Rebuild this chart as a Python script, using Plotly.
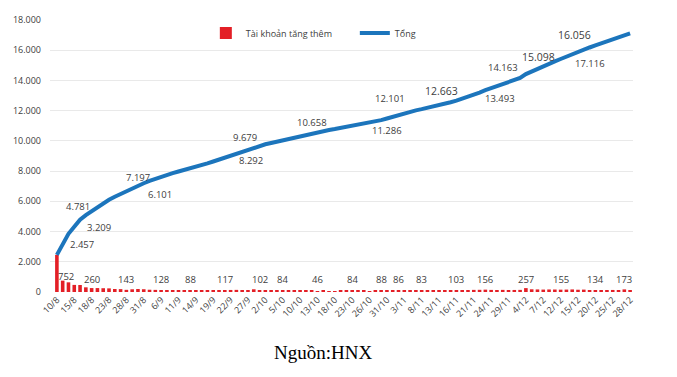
import plotly.graph_objects as go

# ---- data ----
tick_labels = ["10/8", "15/8", "18/8", "23/8", "28/8", "31/8", "6/9", "11/9", "14/9",
               "19/9", "22/9", "27/9", "2/10", "5/10", "10/10", "13/10", "18/10",
               "23/10", "26/10", "31/10", "3/11", "8/11", "13/11", "16/11", "21/11",
               "24/11", "29/11", "4/12", "7/12", "12/12", "15/12", "20/12", "25/12",
               "28/12"]

new_accounts = [
    2457, 752, 640, 470, 462, 310, 260, 260, 250, 240,
    200, 190, 143, 180, 200, 183, 150, 140, 128, 130,
    120, 110, 100, 88, 129, 110, 115, 120, 130, 117,
    135, 140, 120, 118, 180, 102, 95, 90, 88, 84,
    90, 92, 100, 95, 90, 46, 109, 60, 65, 70,
    72, 84, 70, 68, 66, 73, 88, 110, 115, 86,
    120, 110, 103, 83, 80, 85, 90, 100, 104, 103,
    120, 130, 140, 145, 156, 139, 130, 140, 125, 135,
    140, 257, 180, 170, 160, 168, 165, 155, 160, 170,
    150, 158, 125, 134, 130, 128, 135, 120, 173, 115,
]

total_accounts = [
    2457, 3209, 3849, 4319, 4781, 5091, 5351, 5611, 5861, 6101,
    6301, 6491, 6634, 6814, 7014, 7197, 7347, 7487, 7615, 7745,
    7865, 7975, 8075, 8163, 8292, 8402, 8517, 8637, 8767, 8884,
    9019, 9159, 9279, 9397, 9577, 9679, 9774, 9864, 9952, 10036,
    10126, 10218, 10318, 10413, 10503, 10549, 10658, 10718, 10783, 10853,
    10925, 11009, 11079, 11147, 11213, 11286, 11374, 11484, 11599, 11685,
    11805, 11915, 12018, 12101, 12181, 12266, 12356, 12456, 12560, 12663,
    12783, 12913, 13053, 13198, 13354, 13493, 13623, 13763, 13888, 14023,
    14163, 14420, 14600, 14770, 14930, 15098, 15263, 15418, 15578, 15748,
    15898, 16056, 16181, 16315, 16445, 16573, 16708, 16828, 17001, 17116,
]

# sessions whose values are printed in the chart
bar_label_idx = [1, 6, 12, 18, 23, 29, 35, 39, 45, 51, 56, 59, 63, 69, 74, 81, 87, 93, 98]
line_label_idx = [0, 1, 4, 9, 15, 24, 35, 46, 55, 63, 69, 75, 80, 85, 91, 99]

# ---- styling ----
RED = "#e31f26"
BLUE = "#1c75bc"
FONT = "Open Sans"
TXT = "#404040"

sessions = list(range(len(new_accounts)))
tick_step = 3


def fmt(v):
    return f"{v:,}".replace(",", ".")


fig = go.Figure()
fig.add_trace(go.Bar(x=sessions, y=new_accounts, name="Tài khoản tăng thêm",
                     marker=dict(color=RED, line=dict(width=0))))
fig.add_trace(go.Scatter(x=sessions, y=total_accounts, name="Tổng", mode="lines",
                         line=dict(color=BLUE, width=4)))

# line value labels (pixel offsets from their points)
line_shifts = [(25, 10), (36, 16), (-2, 13), (51, 5), (-6, 6), (55, 6), (-15, 8),
               (-11, 8), (12, -9), (-32, 11), (-15, 10), (9, -10), (-17, 10),
               (-11, 7), (-9, 14), (-40, -30)]
wide_labels = {69, 85, 91}
for i, (dx, dy) in zip(line_label_idx, line_shifts):
    fig.add_annotation(x=i, y=total_accounts[i], text=fmt(total_accounts[i]),
                       showarrow=False, xshift=dx, yshift=dy,
                       xanchor="center", yanchor="middle",
                       font=dict(family=FONT, size=10.5 if i in wide_labels else 9.5,
                                 color=TXT))

# bar value labels (all on one row above the bars)
BAR_LABEL_LEVEL = 830
for i in bar_label_idx:
    fig.add_annotation(x=i, y=BAR_LABEL_LEVEL, text=fmt(new_accounts[i]),
                       showarrow=False, yshift=3 if i == 1 else 0,
                       xshift=3 if i == 1 else 0,
                       xanchor="center", yanchor="middle",
                       font=dict(family=FONT, size=9.5, color=TXT))

fig.add_annotation(xref="paper", yref="paper", x=0.468, y=-0.224, text="Nguồn:HNX",
                   showarrow=False, yanchor="middle",
                   font=dict(family="Liberation Serif", size=19, color="#000000"))

fig.update_layout(
    template="none",
    width=677, height=377,
    margin=dict(l=42, r=52, t=12, b=93, autoexpand=False),
    paper_bgcolor="white", plot_bgcolor="white",
    separators=",.",
    bargap=0.38,
    font=dict(family=FONT, size=10, color=TXT),
    showlegend=True,
    legend=dict(orientation="h", x=0.2673, y=0.952, xanchor="left", yanchor="middle",
                entrywidth=104, entrywidthmode="pixels",
                font=dict(family=FONT, size=9, color=TXT),
                bgcolor="rgba(0,0,0,0)", borderwidth=0),
)
fig.update_xaxes(range=[-1.19, 99.5], tickmode="array", automargin=False,
                 tickvals=sessions[::tick_step], ticktext=tick_labels,
                 tickangle=-45, tickfont=dict(family=FONT, size=9, color=TXT),
                 showgrid=False, zeroline=False, showline=False, ticks="")
fig.update_yaxes(range=[0, 18000], tickvals=list(range(0, 18001, 2000)),
                 automargin=False,
                 tickformat=",d", showgrid=True, gridcolor="#e9e9e9", gridwidth=1,
                 zeroline=False, showline=False, ticks="",
                 tickfont=dict(family=FONT, size=9, color=TXT), ticklabelstandoff=8)

fig.write_html("out.html")
